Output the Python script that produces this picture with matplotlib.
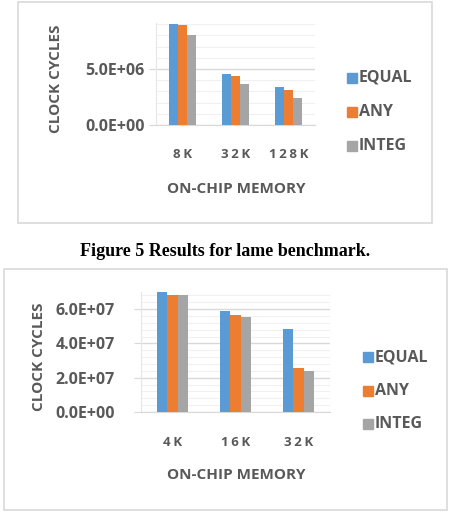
import matplotlib
matplotlib.use("Agg")
import matplotlib.pyplot as plt
import numpy as np
from matplotlib.patches import Rectangle

# ---------------- data ----------------
series = ["EQUAL", "ANY", "INTEG"]
colors = ["#5B9BD5", "#ED7D31", "#A5A5A5"]

top_categories = ["8K", "32K", "128K"]
top_equal = [9.05e6, 4.59e6, 3.41e6]
top_any = [8.88e6, 4.38e6, 3.09e6]
top_integ = [8.00e6, 3.68e6, 2.41e6]
top_yticks = [0.0, 5.0e6]
top_yticklabels = ["0.0E+00", "5.0E+06"]

bot_categories = ["4K", "16K", "32K"]
bot_equal = [6.98e7, 5.87e7, 4.87e7]
bot_any = [6.84e7, 5.66e7, 2.59e7]
bot_integ = [6.84e7, 5.57e7, 2.40e7]
bot_yticks = [0.0, 2.0e7, 4.0e7, 6.0e7]
bot_yticklabels = ["0.0E+00", "2.0E+07", "4.0E+07", "6.0E+07"]

xlabel = "ON-CHIP MEMORY"
ylabel = "CLOCK CYCLES"
caption = "Figure 5 Results for lame benchmark."

# ---------------- style ----------------
W, H = 451, 515
DPI = 100
FONT = ["Open Sans", "DejaVu Sans"]
TXT = "#595959"
fig = plt.figure(figsize=(W / DPI, H / DPI), dpi=DPI)
fig.patch.set_facecolor("white")


def fx(px):
    return px / W


def fy(py):
    return 1 - py / H


def spaced(s):
    return "\u2009".join(s)


def frame(x0, y0, x1, y1):
    fig.patches.append(Rectangle((fx(x0), fy(y1)), fx(x1) - fx(x0), fy(y0) - fy(y1),
                                 transform=fig.transFigure, fill=False,
                                 edgecolor="#D9D9D9", linewidth=1.2))


def chart(rect, cats, vals, ymax, yticks, yticklabels, minor_step,
          ylab_x, xlab_y, xtick_y, legend_x, legend_ys, ypad):
    left, top, right, bottom = rect
    ax = fig.add_axes([fx(left), fy(bottom), fx(right) - fx(left), fy(top) - fy(bottom)])
    x = np.arange(len(cats))
    w = 0.165
    for i, (name, v, c) in enumerate(zip(series, vals, colors)):
        ax.bar(x + (i - 1) * w, v, w, color=c, label=name, zorder=3)
    ax.set_xlim(-0.5, len(cats) - 0.5)
    ax.set_ylim(0, ymax)
    ax.set_yticks(yticks)
    ax.set_yticklabels(yticklabels, fontsize=11.5, fontfamily=FONT,
                       fontweight="bold", color=TXT)
    ax.set_yticks(np.arange(0, ymax + 1, minor_step), minor=True)
    ax.tick_params(axis="y", which="major", length=5, color="#D9D9D9", pad=ypad)
    ax.tick_params(axis="y", which="minor", length=0)
    ax.grid(axis="y", which="minor", color="#F0F0F0", linewidth=0.8, zorder=0)
    ax.grid(axis="y", which="major", color="#D9D9D9", linewidth=1.0, zorder=1)
    ax.set_xticks(x)
    ax.set_xticklabels([])
    ax.tick_params(axis="x", length=0)
    for s in ["top", "right"]:
        ax.spines[s].set_visible(False)
    ax.spines["left"].set_color("#E6E6E6")
    ax.spines["bottom"].set_color("#D9D9D9")
    ax.set_facecolor("none")
    for xi, lab in zip(x, cats):
        xd = ax.transData.transform((xi, 0))[0] / W
        fig.text(xd, fy(xtick_y), spaced(lab), ha="center", va="center", fontsize=9.5,
                 fontfamily=FONT, fontweight="bold", color=TXT)
    fig.text(fx((left + right) / 2 + 1), fy(xlab_y), xlabel, ha="center", va="center",
             fontsize=11, fontfamily=FONT, fontweight="bold", color=TXT)
    fig.text(fx(ylab_x), fy((top + bottom) / 2 + 5), ylabel, ha="center", va="center",
             rotation=90, fontsize=11, fontfamily=FONT, fontweight="bold", color=TXT)
    for name, c, ly in zip(series, colors, legend_ys):
        fig.patches.append(Rectangle((fx(legend_x), fy(ly + 5)), fx(10), 10 / H,
                                     transform=fig.transFigure, color=c))
        fig.text(fx(legend_x + 12), fy(ly), name, ha="left", va="center", fontsize=11.5,
                 fontfamily=FONT, fontweight="bold", color=TXT)
    return ax


frame(18, 2, 432, 223)
chart((156, 23, 315, 125), top_categories, [top_equal, top_any, top_integ], 9.1e6,
      top_yticks, top_yticklabels, 1e6,
      ylab_x=56, xlab_y=189, xtick_y=154, legend_x=347, legend_ys=[78, 112, 146], ypad=3)

fig.text(fx(225), fy(252), caption, ha="center", va="center", fontsize=13,
         fontfamily="Liberation Serif", fontweight="bold", color="black")

frame(4, 269, 447, 510)
chart((141, 292, 330, 412), bot_categories, [bot_equal, bot_any, bot_integ], 7.0e7,
      bot_yticks, bot_yticklabels, 4e6,
      ylab_x=39, xlab_y=475, xtick_y=442, legend_x=363, legend_ys=[357, 391, 424], ypad=14)

fig.savefig("out.png", dpi=DPI)
